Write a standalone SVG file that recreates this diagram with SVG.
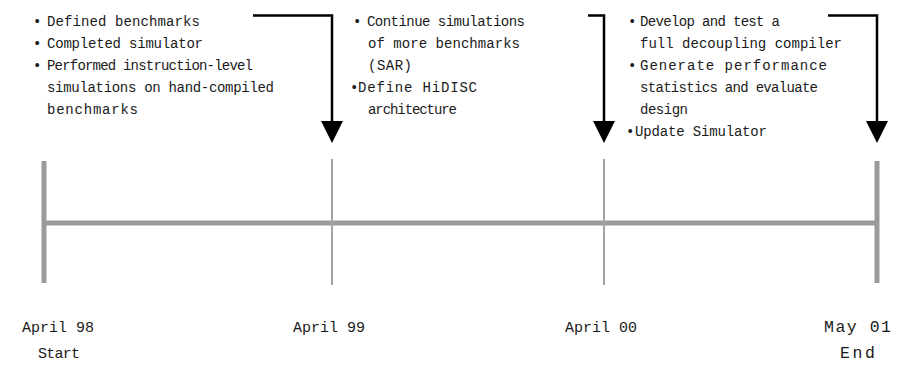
<svg xmlns="http://www.w3.org/2000/svg" width="909" height="368" viewBox="0 0 909 368">
<style>
text{font-family:"Liberation Mono","Courier New",monospace;fill:#1a1a1a;}
.t{font-size:14px;}
.b{font-size:15px;}
.c{font-size:16.5px;}
.thick{stroke:#9a9a9a;stroke-width:5;fill:none;}
.thin{stroke:#a3a3a3;stroke-width:2;fill:none;}
.arr{stroke:#000;stroke-width:2.5;fill:none;}
</style>
<rect width="909" height="368" fill="#fff"/>
<g id="timeline">
<line class="thick" x1="44" y1="223" x2="876" y2="223"/>
<line class="thick" x1="44" y1="161" x2="44" y2="283"/>
<line class="thin" x1="332" y1="159" x2="332" y2="285"/>
<line class="thin" x1="604" y1="159" x2="604" y2="285"/>
<line class="thick" x1="877" y1="161" x2="877" y2="283"/>
</g>
<g id="connectors">
<polyline class="arr" points="253,15.5 332,15.5 332,122"/>
<polygon points="321,121 343,121 332,143" fill="#000"/>
<polyline class="arr" points="588,15.5 604,15.5 604,122"/>
<polygon points="593,121 615,121 604,143" fill="#000"/>
<polyline class="arr" points="828,15.5 877,15.5 877,122"/>
<polygon points="866,121 888,121 877,143" fill="#000"/>
</g>
<g id="phase1">
<text class="t" x="33" y="26">•</text>
<text class="t" x="47" y="26" textLength="153" lengthAdjust="spacing">Defined benchmarks</text>
<text class="t" x="33" y="48">•</text>
<text class="t" x="47" y="48" textLength="156" lengthAdjust="spacing">Completed simulator</text>
<text class="t" x="33" y="70">•</text>
<text class="t" x="47" y="70" textLength="206" lengthAdjust="spacing">Performed instruction-level</text>
<text class="t" x="47" y="92" textLength="227" lengthAdjust="spacing">simulations on hand-compiled</text>
<text class="t" x="47" y="114" textLength="91" lengthAdjust="spacing">benchmarks</text>
</g>
<g id="phase2">
<text class="t" x="353" y="26">•</text>
<text class="t" x="367" y="26" textLength="158" lengthAdjust="spacing">Continue simulations</text>
<text class="t" x="368" y="48" textLength="152" lengthAdjust="spacing">of more benchmarks</text>
<text class="t" x="368" y="70" textLength="44" lengthAdjust="spacing">(SAR)</text>
<text class="t" x="350" y="92">•</text>
<text class="t" x="358" y="92" textLength="119" lengthAdjust="spacing">Define HiDISC</text>
<text class="t" x="368" y="114" textLength="89" lengthAdjust="spacing">architecture</text>
</g>
<g id="phase3">
<text class="t" x="628" y="26">•</text>
<text class="t" x="640" y="26" textLength="140" lengthAdjust="spacing">Develop and test a</text>
<text class="t" x="640" y="48" textLength="202" lengthAdjust="spacing">full decoupling compiler</text>
<text class="t" x="628" y="70">•</text>
<text class="t" x="640" y="70" textLength="187" lengthAdjust="spacing">Generate performance</text>
<text class="t" x="640" y="92" textLength="178" lengthAdjust="spacing">statistics and evaluate</text>
<text class="t" x="640" y="114" textLength="48" lengthAdjust="spacing">design</text>
<text class="t" x="626" y="136">•</text>
<text class="t" x="635" y="136" textLength="132" lengthAdjust="spacing">Update Simulator</text>
</g>
<g id="labels">
<text class="b" x="22" y="332" textLength="72" lengthAdjust="spacing">April 98</text>
<text class="b" x="38" y="358" textLength="42" lengthAdjust="spacing">Start</text>
<text class="b" x="293" y="332" textLength="72" lengthAdjust="spacing">April 99</text>
<text class="b" x="565" y="332" textLength="72" lengthAdjust="spacing">April 00</text>
<text class="c" x="824" y="332" textLength="67" lengthAdjust="spacing">May 01</text>
<text class="c" x="840" y="358" textLength="35" lengthAdjust="spacing">End</text>
</g>
</svg>
